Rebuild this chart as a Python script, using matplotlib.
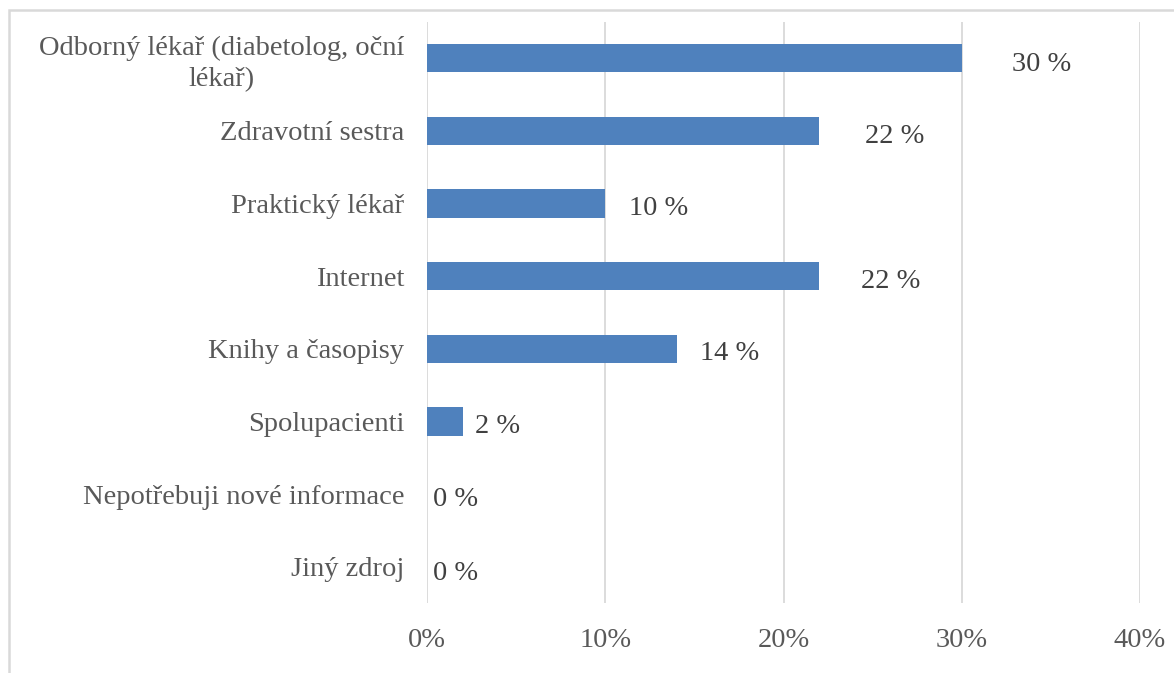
import matplotlib
matplotlib.use("Agg")
import matplotlib.pyplot as plt
from matplotlib.patches import Rectangle
from matplotlib.ticker import FuncFormatter

categories = [
    "Odborný lékař (diabetolog, oční\nlékař)",
    "Zdravotní sestra",
    "Praktický lékař",
    "Internet",
    "Knihy a časopisy",
    "Spolupacienti",
    "Nepotřebuji nové informace",
    "Jiný zdroj",
]
values = [30, 22, 10, 22, 14, 2, 0, 0]
value_labels = ["30 %", "22 %", "10 %", "22 %", "14 %", "2 %", "0 %", "0 %"]
xticks = [0, 10, 20, 30, 40]

# offsets (points) of the value labels from each bar end
label_dx = [36, 33, 17, 30, 17, 9, 4, 4]
label_dy = [-2, -1.5, -1.5, -1.5, -1, -1.5, -1.5, -3]

W, H = 1174, 673
plt.rcParams["font.family"] = ["Liberation Serif", "DejaVu Serif"]
fig = plt.figure(figsize=(W / 100, H / 100), dpi=100)

text_color = "#595959"
grid_color = "#D9D9D9"
bar_color = "#4F81BD"
fs = 20.5

# chart frame
fig.patches.append(Rectangle((8.5 / W, -0.1), 1.2, 1 - 10.5 / H + 0.1,
                             transform=fig.transFigure, fill=False,
                             edgecolor="#D9D9D9", linewidth=1.8))

ax = fig.add_axes([427 / W, 1 - 603 / H, (1140 - 427) / W, (603 - 22) / H])
ypos = list(range(len(categories)))
ax.barh(ypos, values, height=0.39, color=bar_color, zorder=3)
ax.set_ylim(len(categories) - 0.5, -0.5)
ax.set_xlim(0, 40)
ax.set_xticks(xticks)
ax.xaxis.set_major_formatter(FuncFormatter(lambda v, p: f"{v:.0f}%"))
ax.set_yticks(ypos)
ax.set_yticklabels(categories, multialignment="center", linespacing=1.3)
ax.tick_params(axis="y", length=0, pad=16.5, labelsize=fs, labelcolor=text_color)
ax.tick_params(axis="x", length=0, pad=18, labelsize=fs, labelcolor=text_color)

for spine in ax.spines.values():
    spine.set_visible(False)
ax.grid(axis="x", color=grid_color, linewidth=1.3, zorder=0)
ax.set_axisbelow(True)

for y, v, txt, dx, dy in zip(ypos, values, value_labels, label_dx, label_dy):
    ax.annotate(txt, (v, y), xytext=(dx, dy), textcoords="offset points",
                ha="left", va="center_baseline", fontsize=fs, color="#404040")

fig.savefig("out.png", dpi=100)
